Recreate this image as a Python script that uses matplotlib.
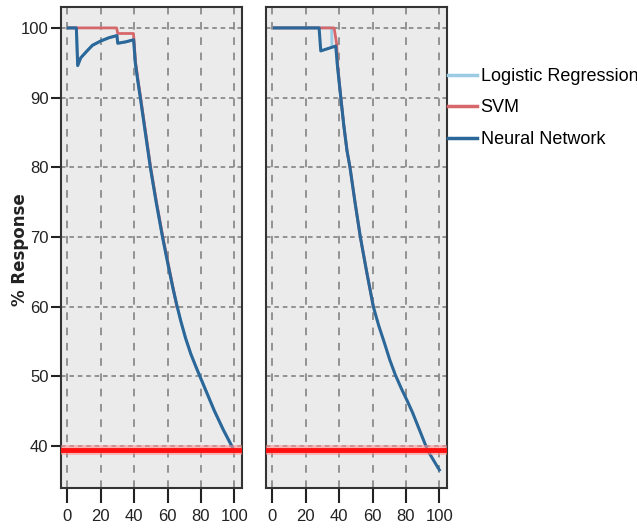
import matplotlib
matplotlib.use('Agg')
import matplotlib.pyplot as plt
from matplotlib.lines import Line2D

# left panel
nn_left_x = [0.6, 5.4, 6.2, 8, 11.8, 15, 19.8, 25, 29.7, 30.2, 35, 39.7, 40.7, 42.2, 43.7, 46.7, 49.7, 53.2, 57, 59, 61.2, 63.3, 65.5, 68, 70.8, 74, 77.5, 81, 84.5, 88, 93.5, 99.4]
nn_left_y = [100, 100, 94.6, 95.7, 96.7, 97.5, 98.1, 98.6, 98.9, 97.8, 98.0, 98.3, 95.0, 92.4, 90, 85, 80, 75, 70, 67.6, 65, 62.6, 60.3, 57.9, 55.5, 53.2, 51.1, 49.1, 47.1, 45.1, 42.3, 39.6]
svm_left_x = [0.6, 29.5, 30.2, 39.6, 40.9, 42.4, 43.9, 46.9, 49.9, 53.4, 57.2, 61.4, 65.6]
svm_left_y = [100, 100, 99.2, 99.2, 95.0, 92.4, 90, 85, 80, 75, 70, 65, 60]
lr_left_x = nn_left_x
lr_left_y = nn_left_y

# right panel
nn_right_x = [1.2, 28, 29, 38, 39, 41, 42.8, 44.7, 46.5, 49.5, 52.7, 56.5, 60.5, 63.7, 67, 70.3, 73.7, 77.2, 80.8, 84, 87, 90, 93, 96.5, 100]
nn_right_y = [100, 100, 96.7, 97.4, 94.5, 90, 86, 82.4, 80, 75, 70, 65, 60, 57.3, 54.9, 52.4, 50.2, 48.3, 46.5, 44.8, 43, 41.2, 39.4, 38, 36.6]
svm_right_x = [1.2, 37, 38.5, 39.2, 41, 42.8, 44.7, 46.5, 49.5, 52.7, 56.5, 60.5]
svm_right_y = [100, 100, 97.7, 94.5, 90, 86, 82.4, 80, 75, 70, 65, 60]
lr_right_x = [1.2, 35.5, 35.7, 38, 39, 41, 42.8, 44.7]
lr_right_y = [100, 100, 97.3, 97.4, 94.5, 90, 86, 82.4]

baseline = 39.4
x_ticks = [0, 20, 40, 60, 80, 100]
y_ticks = [40, 50, 60, 70, 80, 90, 100]
labels = ['Logistic Regression', 'SVM', 'Neural Network']
colors = ['#9ccbe4', '#d6676b', '#2b6798']

tick_font = ['Liberation Sans', 'DejaVu Sans']

fig = plt.figure(figsize=(6.37, 5.32), dpi=100)
ax1 = fig.add_axes([61/637, 44/532, 181/637, 481/532])
ax2 = fig.add_axes([266/637, 44/532, 181/637, 481/532])

panels = [
    (ax1, lr_left_x, lr_left_y, svm_left_x, svm_left_y, nn_left_x, nn_left_y),
    (ax2, lr_right_x, lr_right_y, svm_right_x, svm_right_y, nn_right_x, nn_right_y),
]

for ax, lx, ly, sx, sy, nx, ny in panels:
    ax.set_facecolor('#ebebeb')
    ax.set_xlim(-3.8, 104.6)
    ax.set_ylim(34, 103)
    ax.set_xticks(x_ticks)
    ax.set_yticks(y_ticks)
    ax.xaxis.grid(True, color='#7a7a7a', lw=1.1, dashes=(5, 5))
    ax.yaxis.grid(True, color='#7a7a7a', lw=1.1, dashes=(3, 2.5))
    ax.set_axisbelow(True)
    ax.plot(lx, ly, color=colors[0], lw=2, zorder=3)
    ax.plot(sx, sy, color=colors[1], lw=2, zorder=4)
    ax.plot(nx, ny, color=colors[2], lw=2.2, zorder=5)
    ax.axhline(baseline, color='#ff9090', lw=7, alpha=0.6, zorder=6)
    ax.axhline(baseline, color='#ff1010', lw=3.5, zorder=7)
    for s in ax.spines.values():
        s.set_color('#333333')
        s.set_linewidth(1.5)
    ax.tick_params(axis='x', length=11, width=1.5, color='#222222', pad=4, labelsize=12)
    ax.tick_params(axis='y', length=7, width=1.5, color='#222222', pad=2, labelsize=12)
    for t in ax.get_xticklabels() + ax.get_yticklabels():
        t.set_family(tick_font)
        t.set_color('#222222')

ax2.tick_params(axis='y', left=False, labelleft=False)

fig.text(20/637, 0.53, '% Response', rotation=90, ha='center', va='center',
         fontsize=12, fontweight='bold', color='#222222')

handles = [Line2D([], [], color=c, lw=2.5) for c in colors]
fig.legend(handles, labels, loc='center left', bbox_to_anchor=(448/637, 0.797),
           frameon=False, borderpad=0, borderaxespad=0, handlelength=1.6,
           handletextpad=0.2, labelspacing=0.8,
           prop={'family': tick_font, 'size': 13})

fig.savefig('out.png', dpi=100)
